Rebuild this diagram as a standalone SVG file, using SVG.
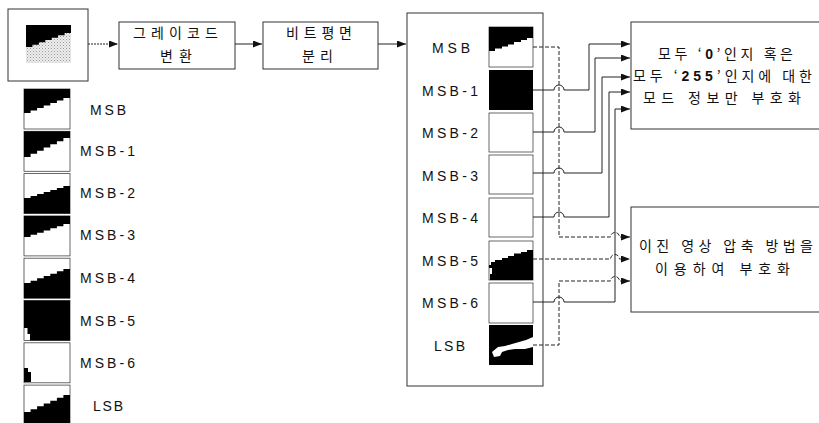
<svg xmlns="http://www.w3.org/2000/svg" width="819" height="423" viewBox="0 0 819 423">
<style>
.box{fill:#fff;stroke:#333;stroke-width:1}
.th{fill:#fff;stroke:#444;stroke-width:0.8}
.blk{fill:#000}
.wht{fill:#fff}
.ln{fill:none;stroke:#222;stroke-width:1}
.dl{fill:none;stroke:#222;stroke-width:1;stroke-dasharray:4,2}
.kr{font-family:"Noto Sans CJK KR","Noto Sans",sans-serif;font-size:14px;fill:#111}
.lb{font-family:"Liberation Sans",Arial,sans-serif;font-size:14px;fill:#111}
.bd{font-family:"Liberation Sans",Arial,sans-serif;font-weight:bold}
</style>
<defs>
<marker id="ah" markerUnits="userSpaceOnUse" markerWidth="10" markerHeight="8" refX="9" refY="3.5" orient="auto">
<path d="M0,0 L9,3.5 L0,7 Z" fill="#111"/>
</marker>
<pattern id="dots" patternUnits="userSpaceOnUse" width="3" height="3">
<rect width="3" height="3" fill="#eeeeee"/>
<rect width="1" height="1" fill="#999"/>
<rect x="1.5" y="1.5" width="1" height="1" fill="#b5b5b5"/>
</pattern>
</defs>

<g id="source">
<rect class="box" x="8" y="9" width="80" height="72"/>
<rect x="26" y="25" width="45" height="38" fill="url(#dots)"/>
<path class="blk" d="M26,25 H71 V33 H64.6 V35.3 H58.1 V37.7 H51.7 V40 H45.3 V42.3 H38.9 V44.7 H32.4 V47 H26 Z"/>
</g>

<g id="planes-list">
<rect class="th" x="24" y="89" width="46" height="40"/>
<path class="blk" d="M24,89 H70 V98 H63.4 V100.5 H56.9 V103 H50.3 V105.5 H43.7 V108 H37.1 V110.5 H30.6 V113 H24 Z"/>
<rect class="th" x="24" y="131.3" width="46" height="40"/>
<path class="blk" d="M24,131.3 H70 V138 H63.4 V141.2 H56.9 V144.3 H50.3 V147.5 H43.7 V150.7 H37.1 V153.8 H30.6 V157 H24 Z"/>
<rect class="th" x="24" y="173.6" width="46" height="40"/>
<path class="blk" d="M70,213.6 V186 H63.4 V188 H56.9 V190 H50.3 V192 H43.7 V194 H37.1 V196 H30.6 V198 H24 V213.6 Z"/>
<rect class="th" x="24" y="215.9" width="46" height="40"/>
<path class="blk" d="M24,215.9 H70 V224 H63.4 V226.2 H56.9 V228.3 H50.3 V230.5 H43.7 V232.7 H37.1 V234.8 H30.6 V237 H24 Z"/>
<rect class="th" x="24" y="258.2" width="46" height="40"/>
<path class="blk" d="M70,298.2 V269 H63.4 V271.3 H56.9 V273.7 H50.3 V276 H43.7 V278.3 H37.1 V280.7 H30.6 V283 H24 V298.2 Z"/>
<rect class="th" x="24" y="300.5" width="46" height="40"/>
<path class="blk" d="M24,300.5 H70 V340.5 H30 V334 H27.5 V328 H24 Z"/>
<rect class="th" x="24" y="342.8" width="46" height="40"/>
<path class="blk" d="M24,368 H28 V372 H31 V382 H24 Z"/>
<rect class="th" x="24" y="385.1" width="46" height="40"/>
<path class="blk" d="M70,425 V395 H63.4 V397.8 H56.9 V400.7 H50.3 V403.5 H43.7 V406.3 H37.1 V409.2 H30.6 V412 H24 V425 Z"/>
<text class="lb" x="90" y="115" textLength="36" lengthAdjust="spacing">MSB</text>
<text class="lb" x="80" y="156" textLength="55" lengthAdjust="spacing">MSB-1</text>
<text class="lb" x="80" y="198" textLength="55" lengthAdjust="spacing">MSB-2</text>
<text class="lb" x="80" y="240" textLength="55" lengthAdjust="spacing">MSB-3</text>
<text class="lb" x="80" y="283" textLength="55" lengthAdjust="spacing">MSB-4</text>
<text class="lb" x="80" y="326" textLength="55" lengthAdjust="spacing">MSB-5</text>
<text class="lb" x="80" y="368" textLength="55" lengthAdjust="spacing">MSB-6</text>
<text class="lb" x="93" y="411" textLength="30" lengthAdjust="spacing">LSB</text>
</g>

<g id="gray-code">
<rect class="box" x="119" y="22" width="116" height="47"/>
<text class="kr" x="133" y="38" textLength="85" lengthAdjust="spacing">그레이코드</text>
<text class="kr" x="160" y="61" textLength="32" lengthAdjust="spacing">변환</text>
</g>

<g id="bitplane-split">
<rect class="box" x="263" y="22" width="115" height="47"/>
<text class="kr" x="286" y="38" textLength="66" lengthAdjust="spacing">비트평면</text>
<text class="kr" x="302" y="61" textLength="31" lengthAdjust="spacing">분리</text>
</g>

<g id="bitplanes">
<rect class="box" x="407" y="13" width="136" height="373"/>
<rect class="th" x="489" y="27" width="44" height="40"/>
<path class="blk" d="M489,27 H533 V38 H527 V40 H521 V42 H514 V44.5 H508 V46.5 H502 V48.5 H495 V51 H489 Z"/>
<rect class="blk" x="489" y="70" width="44" height="40"/>
<rect class="th" x="489" y="113" width="44" height="39"/>
<rect class="th" x="489" y="155" width="44" height="39"/>
<rect class="th" x="489" y="198" width="44" height="39"/>
<rect class="th" x="489" y="241" width="44" height="39"/>
<path class="blk" d="M533,280 V250 H527 V252 H521 V253.5 H514 V256 H508 V258 H502 V260 H495 V262 H491 V265 H489 V268 H492 V274 H490 V280 Z"/>
<rect class="th" x="489" y="283" width="44" height="40"/>
<rect class="blk" x="489" y="325" width="44" height="40"/>
<path class="wht" d="M492,352 L498,347 L505,346 L512,344 L519,342 L526,340 L533,337 L533,347 L525,349 L515,349 L508,350 L502,352 L500,356 L494,357 Z"/>
<rect class="blk" x="521" y="350" width="4" height="4"/>
<text class="lb" x="432" y="53" textLength="38" lengthAdjust="spacing">MSB</text>
<text class="lb" x="422" y="95.5" textLength="56" lengthAdjust="spacing">MSB-1</text>
<text class="lb" x="422" y="138" textLength="56" lengthAdjust="spacing">MSB-2</text>
<text class="lb" x="422" y="180.5" textLength="56" lengthAdjust="spacing">MSB-3</text>
<text class="lb" x="422" y="223" textLength="56" lengthAdjust="spacing">MSB-4</text>
<text class="lb" x="422" y="265.5" textLength="56" lengthAdjust="spacing">MSB-5</text>
<text class="lb" x="422" y="308" textLength="56" lengthAdjust="spacing">MSB-6</text>
<text class="lb" x="434" y="350.5" textLength="31" lengthAdjust="spacing">LSB</text>
</g>

<g id="mode-coding">
<rect class="box" x="631" y="22" width="200" height="107"/>
<text class="kr" x="658" y="59" textLength="135" lengthAdjust="spacing">모두 ‘<tspan class="bd">0</tspan>’인지 혹은</text>
<text class="kr" x="633" y="81" textLength="179" lengthAdjust="spacing">모두 ‘<tspan class="bd">255</tspan>’인지에 대한</text>
<text class="kr" x="643" y="103" textLength="158" lengthAdjust="spacing">모드 정보만 부호화</text>
</g>

<g id="binary-coding">
<rect class="box" x="631" y="207" width="200" height="105"/>
<text class="kr" x="639" y="251" textLength="174" lengthAdjust="spacing">이진 영상 압축 방법을</text>
<text class="kr" x="655" y="274" textLength="135" lengthAdjust="spacing">이용하여 부호화</text>
</g>

<g id="connectors">
<line x1="88" y1="44" x2="118" y2="44" class="ln" stroke-dasharray="2,1" marker-end="url(#ah)"/>
<line x1="235" y1="44" x2="262" y2="44" class="ln" marker-end="url(#ah)"/>
<line x1="378" y1="44" x2="406" y2="44" class="ln" marker-end="url(#ah)"/>
<path class="ln" d="M533,90 H554 A5,5 0 0 1 564,90 H589 V44 H630" marker-end="url(#ah)"/>
<path class="ln" d="M533,132 H554 A5,5 0 0 1 564,132 H595 V58 H630" marker-end="url(#ah)"/>
<path class="ln" d="M533,173 H554 A5,5 0 0 1 564,173 H602 V77 H630" marker-end="url(#ah)"/>
<path class="ln" d="M533,217 H554 A5,5 0 0 1 564,217 H609 V92 H630" marker-end="url(#ah)"/>
<path class="ln" d="M533,302 H554 A5,5 0 0 1 564,302 H615 V109 H630" marker-end="url(#ah)"/>
<path class="dl" d="M533,47 H559 V237 H610.5 A4.5,4.5 0 0 1 619.5,237 H630" marker-end="url(#ah)"/>
<path class="dl" d="M533,259 H610.5 A4.5,4.5 0 0 1 619.5,259 H630" marker-end="url(#ah)"/>
<path class="dl" d="M533,345 H559 V281 H610.5 A4.5,4.5 0 0 1 619.5,281 H630" marker-end="url(#ah)"/>
</g>
</svg>
